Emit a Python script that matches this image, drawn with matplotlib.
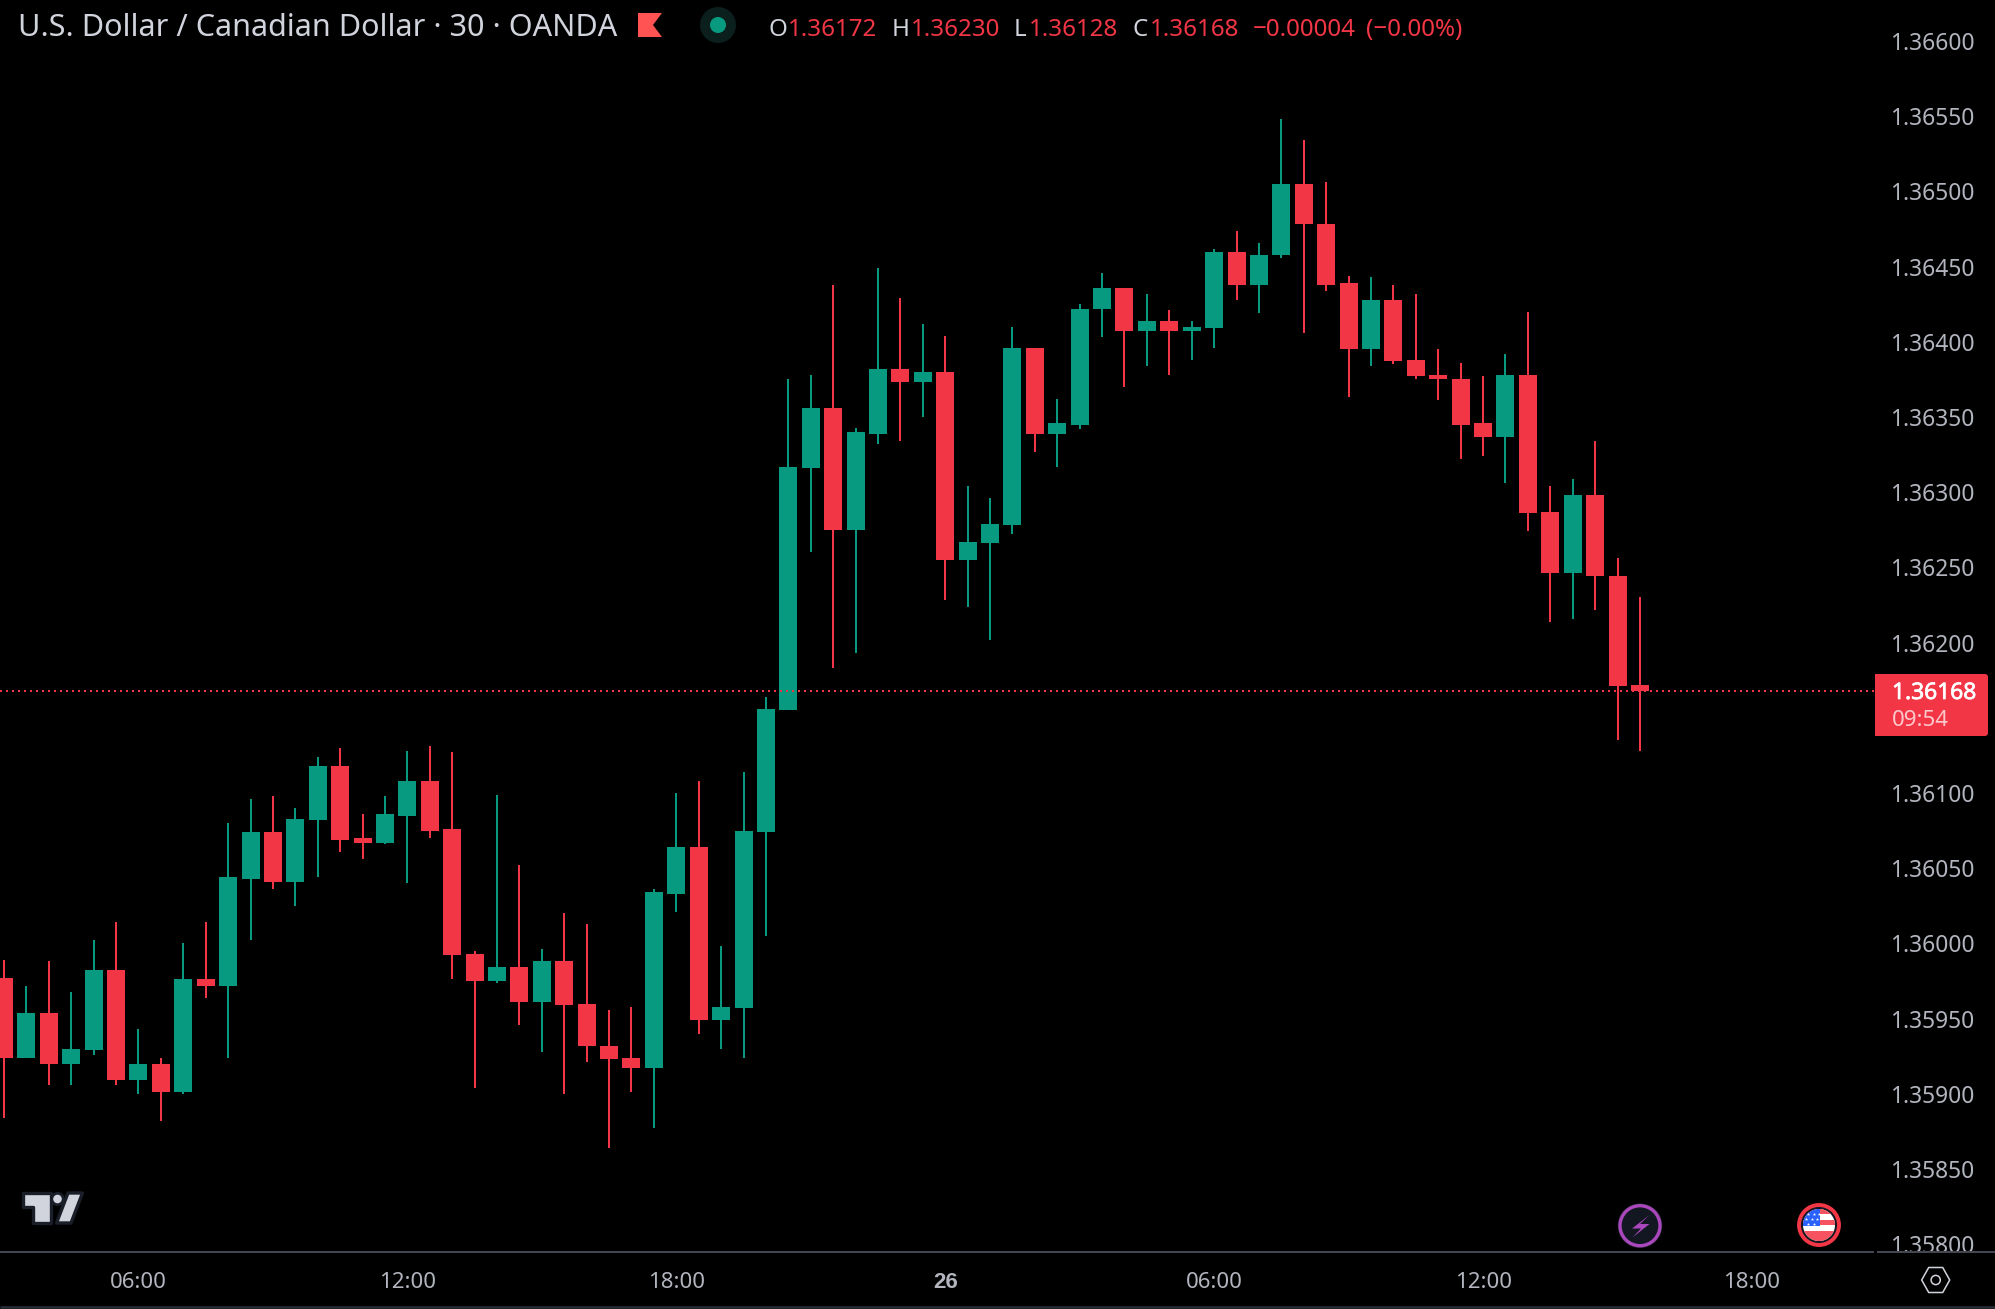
import matplotlib
matplotlib.use("Agg")
import matplotlib.pyplot as plt
import matplotlib.patheffects as pe
from matplotlib.patches import Polygon, Circle, Rectangle, FancyBboxPatch

# Candle values (30-minute bars, first bar 03:00)
opens = [1.35977,1.35924,1.35954,1.35920,1.35929,1.35982,1.35909,1.35920,1.35901,1.35976,
         1.35972,1.36043,1.36074,1.36041,1.36082,1.36118,1.36070,1.36067,1.36085,1.36108,
         1.36076,1.35993,1.35975,1.35984,1.35961,1.35988,1.35960,1.35932,1.35924,1.35917,
         1.36033,1.36064,1.35949,1.35957,1.36074,1.36155,1.36316,1.36356,1.36275,1.36339,
         1.36382,1.36373,1.36380,1.36255,1.36266,1.36278,1.36396,1.36339,1.36345,1.36422,
         1.36436,1.36407,1.36414,1.36407,1.36409,1.36460,1.36438,1.36458,1.36505,1.36478,
         1.36439,1.36395,1.36428,1.36388,1.36378,1.36375,1.36346,1.36337,1.36378,1.36287,
         1.36246,1.36298,1.36244,1.36172]
highs = [1.35989,1.35972,1.35988,1.35968,1.36002,1.36014,1.35943,1.35924,1.36000,1.36014,
         1.36080,1.36096,1.36098,1.36090,1.36124,1.36130,1.36086,1.36098,1.36128,1.36131,
         1.36127,1.35995,1.36099,1.36052,1.35996,1.36020,1.36013,1.35956,1.35958,1.36036,
         1.36100,1.36108,1.35998,1.36114,1.36164,1.36375,1.36378,1.36438,1.36343,1.36449,
         1.36429,1.36412,1.36404,1.36304,1.36296,1.36410,1.36396,1.36362,1.36425,1.36446,
         1.36436,1.36432,1.36421,1.36414,1.36462,1.36474,1.36466,1.36548,1.36534,1.36506,
         1.36444,1.36443,1.36438,1.36432,1.36395,1.36386,1.36377,1.36392,1.36420,1.36304,
         1.36309,1.36334,1.36256,1.36230]
lows = [1.35884,1.35924,1.35906,1.35906,1.35926,1.35906,1.35900,1.35882,1.35900,1.35964,
        1.35924,1.36002,1.36036,1.36025,1.36044,1.36061,1.36056,1.36066,1.36040,1.36070,
        1.35976,1.35904,1.35974,1.35946,1.35928,1.35900,1.35921,1.35864,1.35901,1.35877,
        1.36021,1.35940,1.35930,1.35924,1.36005,1.36155,1.36260,1.36183,1.36193,1.36332,
        1.36334,1.36350,1.36228,1.36224,1.36202,1.36272,1.36327,1.36317,1.36342,1.36403,
        1.36370,1.36384,1.36378,1.36388,1.36396,1.36428,1.36419,1.36456,1.36406,1.36434,
        1.36363,1.36384,1.36385,1.36375,1.36361,1.36322,1.36324,1.36306,1.36274,1.36214,
        1.36216,1.36222,1.36135,1.36128]
closes = [1.35924,1.35954,1.35920,1.35930,1.35982,1.35909,1.35920,1.35901,1.35976,1.35972,
          1.36044,1.36074,1.36041,1.36083,1.36118,1.36069,1.36067,1.36086,1.36108,1.36075,
          1.35992,1.35975,1.35984,1.35961,1.35988,1.35959,1.35932,1.35923,1.35917,1.36034,
          1.36064,1.35949,1.35958,1.36075,1.36156,1.36317,1.36356,1.36275,1.36340,1.36382,
          1.36373,1.36380,1.36255,1.36267,1.36279,1.36396,1.36339,1.36346,1.36422,1.36436,
          1.36407,1.36414,1.36407,1.36410,1.36460,1.36438,1.36458,1.36505,1.36478,1.36438,
          1.36395,1.36428,1.36387,1.36377,1.36375,1.36345,1.36337,1.36378,1.36286,1.36246,
          1.36298,1.36244,1.36171,1.36168]
price_ticks = [1.358,1.3585,1.359,1.3595,1.36,1.3605,1.361,1.362,1.3625,1.363,1.3635,1.364,1.3645,1.365,1.3655,1.366]
time_positions = [6,18,30,42,54,66,78]
time_labels = ["06:00","12:00","18:00","26","06:00","12:00","18:00"]
last_price = 1.36168
countdown = "09:54"
title_text = "U.S. Dollar / Canadian Dollar \u00b7 30 \u00b7 OANDA"
ohlc_parts = [("O","1.36172"),("H","1.36230"),("L","1.36128"),("C","1.36168")]
change_text = "\u22120.00004"
change_pct = "(\u22120.00%)"

UP = "#089981"
DOWN = "#f23645"
TXT = "#b2b5be"
FONT = "Noto Sans"
W, H = 1995, 1309
plt.rcParams["font.family"] = [FONT, "DejaVu Sans"]

fig = plt.figure(figsize=(W/100, H/100), dpi=100, facecolor="black")
ax = fig.add_axes([0, (H-1252)/H, 1875/W, 1252/H], facecolor="black")

bar_step = 22.41
x0_px = 4.0
ax.set_xlim(-x0_px/bar_step, (1875-x0_px)/bar_step)
pp = 0.0005/75.2
ax.set_ylim(1.362-(1252-642.6)*pp, 1.362+642.6*pp)

for i, (o, h, l, c) in enumerate(zip(opens, highs, lows, closes)):
    col = UP if c >= o else DOWN
    ax.vlines(i, l, h, color=col, lw=1.44, zorder=3)
    ax.bar(i, abs(c-o), bottom=min(o, c), width=18/bar_step, color=col, lw=0, zorder=3)

ax.axhline(last_price, color=DOWN, lw=1.44, ls=(0, (1, 2)), zorder=4)

ax.set_yticks(price_ticks)
ax.set_yticklabels([f"{p:.5f}" for p in price_ticks])
ax.yaxis.tick_right()
ax.tick_params(axis="y", length=0, pad=10.5, labelcolor=TXT, labelsize=16.4)
ax.set_xticks(time_positions)
ax.set_xticklabels(time_labels)
ax.tick_params(axis="x", length=0, pad=14.5, labelcolor=TXT, labelsize=16)
bold_label = ax.get_xticklabels()[3]
bold_label.set_family(["Liberation Sans", "DejaVu Sans"])
bold_label.set_fontweight("bold")
for s in ax.spines.values():
    s.set_visible(False)

# Overlay in pixel coordinates for the interface furniture
ov = fig.add_axes([0, 0, 1, 1], facecolor="none")
ov.set_xlim(0, W)
ov.set_ylim(H, 0)
ov.axis("off")
ov.set_zorder(5)

ov.add_patch(Rectangle((1876, 1252), W-1876, H-1252, fc="black", ec="none", zorder=1))
ov.plot([0, 1874], [1252, 1252], color="#434651", lw=1.44, solid_capstyle="butt", zorder=3)
ov.plot([1877, W], [1252, 1252], color="#434651", lw=1.44, solid_capstyle="butt", zorder=3)
ov.plot([0, W], [1307, 1307], color="#2a2e39", lw=1.8, solid_capstyle="butt", zorder=3)

# Header
ov.text(18, 28.5, title_text, color="#d1d4dc", fontsize=22, va="center", ha="left")
ov.add_patch(Polygon([(638, 13), (662, 13), (653, 25), (662, 37), (638, 37)], closed=True, fc="#ff5252", ec="none"))
ov.add_patch(Circle((718, 25), 18, fc="#0b1f1c", ec="none"))
ov.add_patch(Circle((718, 25), 8, fc=UP, ec="none"))

hdr_fs = 17.4
label_x = [769, 892, 1014, 1133]
value_x = [788, 911, 1029, 1150]
for (lab, val), lx, vx in zip(ohlc_parts, label_x, value_x):
    ov.text(lx, 29.5, lab, color="#d1d4dc", fontsize=hdr_fs, va="center", ha="left")
    ov.text(vx, 29.5, val, color=DOWN, fontsize=hdr_fs, va="center", ha="left")
ov.text(1253, 29.5, change_text, color=DOWN, fontsize=hdr_fs, va="center", ha="left")
ov.text(1366, 29.5, change_pct, color=DOWN, fontsize=hdr_fs, va="center", ha="left")

# Price box
ov.add_patch(FancyBboxPatch((1878, 677), 107, 56, boxstyle="round,pad=3,rounding_size=3", fc=DOWN, ec="none"))
ov.add_patch(Rectangle((1875, 674), 8, 62, fc=DOWN, ec="none"))
ov.text(1892, 693, f"{last_price:.5f}", color="white", fontsize=16.4, va="center", ha="left",
        path_effects=[pe.withStroke(linewidth=0.5, foreground="white")])
ov.text(1892, 721, countdown, color="#fcc8cc", fontsize=16, va="center", ha="left")

# TradingView logo
logo_ec = "#1a1e28"
ov.add_patch(Polygon([(23, 1193), (51, 1193), (51, 1223), (33, 1223), (33, 1207), (23, 1207)],
                     closed=True, fc="#d1d4dc", ec=logo_ec, lw=2.4, joinstyle="round"))
ov.add_patch(Circle((57.5, 1199), 5.7, fc="#d1d4dc", ec=logo_ec, lw=2.0))
ov.add_patch(Polygon([(68, 1193), (82.5, 1193), (71, 1223), (56.5, 1223)],
                     closed=True, fc="#d1d4dc", ec=logo_ec, lw=2.4, joinstyle="round"))

# Lightning marker
ov.add_patch(Circle((1640, 1225.7), 21.5, fc="#131722", ec="#1e222d", lw=1.2))
ov.add_patch(Circle((1640, 1225.7), 20, fc="#131722", ec="#ab47bc", lw=2.4))
ov.add_patch(Polygon([(1649.5, 1215), (1632, 1228.5), (1641, 1228.5), (1632.5, 1237.5), (1649.5, 1224), (1640, 1224)],
                     closed=True, fc="#ab47bc", ec="none"))

# Flag marker
cx, cy = 1819, 1225
ov.add_patch(Circle((cx, cy), 20, fc="#131722", ec=DOWN, lw=2.8))
disc = Circle((cx, cy), 16, fc="white", ec="none")
ov.add_patch(disc)
for top, hgt in [(-16, 5.0), (-5.3, 5.0), (6.0, 10.0)]:
    r = Rectangle((cx-16, cy+top), 32, hgt, fc="#f7525f", ec="none")
    ov.add_patch(r)
    r.set_clip_path(disc)
can = Rectangle((cx-16, cy-16), 17, 17, fc="#2962ff", ec="none")
ov.add_patch(can)
can.set_clip_path(disc)
ov.scatter([cx-11, cx-5, cx-0.5, cx-13, cx-7.5, cx-2, cx-11, cx-5], [cy-11, cy-11, cy-11, cy-6, cy-6, cy-6, cy-1.5, cy-1.5],
           s=6, marker="*", color="white", lw=0)

# Settings hexagon
hx, hy = 1935.7, 1280
ov.add_patch(Polygon([(hx-14, hy), (hx-7, hy-12.5), (hx+7, hy-12.5), (hx+14, hy), (hx+7, hy+12.5), (hx-7, hy+12.5)],
                     closed=True, fc="none", ec="#d1d4dc", lw=1.1))
ov.add_patch(Circle((hx, hy), 4.6, fc="none", ec="#d1d4dc", lw=1.1))

fig.savefig("out.png", dpi=100, facecolor="black")
